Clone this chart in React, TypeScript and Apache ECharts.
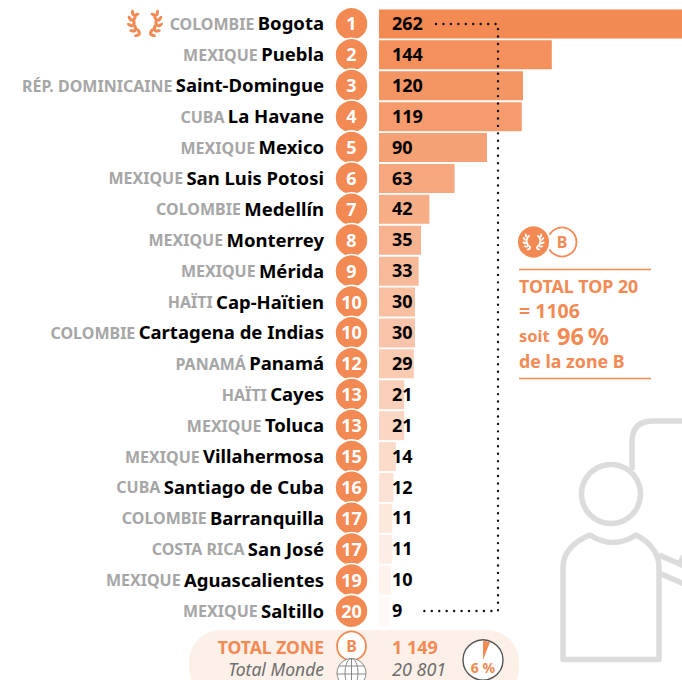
import React, { useEffect, useRef } from "react";
import * as echarts from "echarts";

const countries = ["COLOMBIE","MEXIQUE","RÉP. DOMINICAINE","CUBA","MEXIQUE","MEXIQUE","COLOMBIE","MEXIQUE","MEXIQUE","HAÏTI","COLOMBIE","PANAMÁ","HAÏTI","MEXIQUE","MEXIQUE","CUBA","COLOMBIE","COSTA RICA","MEXIQUE","MEXIQUE"];
const cities = ["Bogota","Puebla","Saint-Domingue","La Havane","Mexico","San Luis Potosi","Medellín","Monterrey","Mérida","Cap-Haïtien","Cartagena de Indias","Panamá","Cayes","Toluca","Villahermosa","Santiago de Cuba","Barranquilla","San José","Aguascalientes","Saltillo"];
const values = [262,144,120,119,90,63,42,35,33,30,30,29,21,21,14,12,11,11,10,9];
const ranks = [1,2,3,4,5,6,7,8,9,10,10,12,13,13,15,16,17,17,19,20];
const shareOfWorld = [6, 94];

const ORANGE = "#F38A53";
const FONT = "'Noto Sans'";
const PX_PER_UNIT = 1.2;
const X0 = 379;
const xMin = -X0 / PX_PER_UNIT;
const xMax = (682 - X0) / PX_PER_UNIT;
const rankX = (351.5 - X0) / PX_PER_UNIT;

echarts.graphic.registerShape("personBody", echarts.graphic.extendPath("M563 567 V659.5 H659 V567 C659 552 648 541 636 535 Q613 550 590 535 C575 541 563 552 563 567 Z", {}));
echarts.graphic.registerShape("personBubble", echarts.graphic.extendPath("M632 470 V442 Q632 421 653 421 H690", {}));
echarts.graphic.registerShape("personArms", echarts.graphic.extendPath("M659 555 L684 566 M659 573 L684 584 M679 564 L684 556", {}));

function laurel(cx: number, cy: number, r: number, color: string, z: number) {
  const els: any[] = [];
  const s = r / 13;
  [-1, 1].forEach((side) => {
    [20, 44, 68, 92, 116].forEach((deg) => {
      const t = (deg * Math.PI) / 180;
      const x = cx + side * r * Math.sin(t);
      const y = cy + r * Math.cos(t);
      const dir = Math.atan2(-Math.sin(t), side * Math.cos(t));
      [-0.65, 0.65].forEach((off) => {
        const a = dir + off;
        els.push({
          type: "ellipse",
          x: x + Math.cos(a) * 3.4 * s,
          y: y + Math.sin(a) * 3.4 * s,
          rotation: -a,
          shape: { cx: 0, cy: 0, rx: 3.4 * s, ry: 1.6 * s },
          style: { fill: color },
          z,
        });
      });
    });
  });
  return els;
}

const txt = (text: string, x: number, y: number, size: number, fill: string, align = "left", extra: any = {}) => ({
  type: "text",
  z: 10,
  style: { text, x, y, fontFamily: FONT, fontSize: size, fontWeight: "bold", fill, align, verticalAlign: "middle", ...extra },
});

export default function App() {
  const ref = useRef<HTMLDivElement>(null);
  useEffect(() => {
    document.body.style.margin = "0";
    const chart = echarts.init(ref.current!, undefined, { renderer: "svg" });
    const lightGrey = "#DCDCDC";
    const personStyle = { stroke: lightGrey, lineWidth: 5.5, fill: "none", lineJoin: "round" };
    chart.setOption({
      animation: false,
      grid: { left: 0, right: 0, top: 8.5, height: 618, outerBoundsMode: "none" },
      xAxis: { type: "value", min: xMin, max: xMax, show: false, splitLine: { show: false } },
      yAxis: {
        type: "category",
        inverse: true,
        data: cities,
        axisLine: { show: false },
        axisTick: { show: false },
        axisLabel: {
          margin: -324,
          interval: 0,
          padding: [0, 0, 2, 0],
          formatter: (v: string, i: number) => `{c|${countries[i]}} {n|${v}}`,
          rich: {
            c: { fontFamily: FONT, fontSize: 16, fontWeight: "bold", color: "#A6A6A6", padding: [2, 0, 0, 0] },
            n: { fontFamily: FONT, fontSize: 18.5, fontWeight: "bold", color: "#000" },
          },
        },
      },
      series: [
        {
          type: "bar",
          barWidth: 29,
          data: values.map((v, i) => ({ value: v, itemStyle: { color: ORANGE, opacity: Math.max(0.04, 1 - i * 0.05) } })),
          label: {
            show: true,
            position: [13, "47%"],
            verticalAlign: "middle",
            fontFamily: FONT,
            fontSize: 18,
            fontWeight: "bold",
            color: "#000",
            opacity: 1,
          },
          z: 2,
        },
        {
          type: "scatter",
          symbol: "circle",
          symbolSize: 33,
          data: ranks.map((r, i) => [rankX, i, r]),
          itemStyle: { color: ORANGE, borderColor: "#fff", borderWidth: 1.5, opacity: 1 },
          label: {
            show: true,
            position: "inside",
            offset: [0, -0.5],
            formatter: (p: any) => String(p.value[2]),
            fontFamily: FONT,
            fontSize: 18,
            fontWeight: "bold",
            color: "#fff",
          },
          z: 3,
        },
        {
          type: "pie",
          center: [483, 660],
          radius: [0, 19],
          startAngle: 90,
          silent: true,
          label: { show: false },
          labelLine: { show: false },
          data: shareOfWorld.map((v, i) => ({
            value: v,
            itemStyle: { color: i === 0 ? ORANGE : "rgba(255,255,255,0)" },
          })),
          z: 3,
        },
      ],
      graphic: [
        { type: "rect", z: 0, shape: { x: 189, y: 630, width: 330, height: 70, r: 32 }, style: { fill: "#FDF0E8" } },
        {
          type: "polyline",
          z: 10,
          shape: { points: [[436, 24], [498, 24], [498, 611], [420, 611]] },
          style: { stroke: "#111", lineWidth: 2.4, lineDash: [0, 7.45], lineCap: "round", fill: "none" },
        },
        ...laurel(145, 22, 13, ORANGE, 10),
        { type: "circle", z: 4, shape: { cx: 562, cy: 242, r: 14.5 }, style: { fill: "#fff", stroke: ORANGE, lineWidth: 1.8 } },
        txt("B", 562, 242, 16, ORANGE, "center"),
        { type: "circle", z: 5, shape: { cx: 533.5, cy: 242, r: 16.5 }, style: { fill: ORANGE, stroke: "#fff", lineWidth: 2 } },
        ...laurel(533.5, 241, 8, "#fff", 6),
        { type: "line", z: 4, shape: { x1: 519, y1: 269.5, x2: 651, y2: 269.5 }, style: { stroke: ORANGE, lineWidth: 1.4 } },
        { type: "line", z: 4, shape: { x1: 519, y1: 378.5, x2: 651, y2: 378.5 }, style: { stroke: ORANGE, lineWidth: 1.4 } },
        txt("TOTAL TOP 20", 519, 286, 17.8, ORANGE),
        txt("= 1106", 519, 310, 19.5, ORANGE),
        txt("soit", 519, 335, 16.5, ORANGE),
        txt("96\u202F%", 557, 336, 23.5, ORANGE),
        txt("de la zone B", 519, 361, 17.8, ORANGE),
        { type: "personBubble", z: 1, x: 0, y: 0, style: personStyle },
        { type: "personArms", z: 1, x: 0, y: 0, style: personStyle },
        { type: "circle", z: 1, shape: { cx: 611, cy: 494, r: 29.5 }, style: { fill: "#fff", stroke: lightGrey, lineWidth: 5.5 } },
        { type: "personBody", z: 1, x: 0, y: 0, style: { ...personStyle, fill: "#fff" } },
        txt("TOTAL ZONE", 324, 647, 17.5, ORANGE, "right"),
        { type: "circle", z: 4, shape: { cx: 351.5, cy: 646, r: 14.5 }, style: { fill: "#fff", stroke: ORANGE, lineWidth: 1.8 } },
        txt("B", 351.5, 646, 16, ORANGE, "center"),
        txt("1 149", 392, 647, 18, ORANGE),
        txt("Total Monde", 324, 669, 17.5, "#6E6E6E", "right", { fontWeight: "normal", fontStyle: "italic" }),
        { type: "circle", z: 4, shape: { cx: 351.5, cy: 673, r: 14.5 }, style: { fill: "#fff", stroke: "#888", lineWidth: 1 } },
        { type: "ellipse", z: 4, shape: { cx: 351.5, cy: 673, rx: 6.5, ry: 14.5 }, style: { fill: "none", stroke: "#888", lineWidth: 1 } },
        { type: "line", z: 4, shape: { x1: 351.5, y1: 658.5, x2: 351.5, y2: 680 }, style: { stroke: "#888", lineWidth: 1 } },
        { type: "line", z: 4, shape: { x1: 339, y1: 666, x2: 364, y2: 666 }, style: { stroke: "#888", lineWidth: 1 } },
        { type: "line", z: 4, shape: { x1: 337, y1: 674, x2: 366, y2: 674 }, style: { stroke: "#888", lineWidth: 1 } },
        txt("20 801", 392, 669, 18, "#6E6E6E", "left", { fontWeight: "normal", fontStyle: "italic" }),
        { type: "circle", z: 1, shape: { cx: 483, cy: 660, r: 20 }, style: { fill: "#fff", stroke: "#555", lineWidth: 1.4 } },
        txt("6 %", 483, 667, 14, ORANGE, "center"),
      ],
    });
    return () => chart.dispose();
  }, []);
  return <div ref={ref} style={{ width: 682, height: 680 }} />;
}
